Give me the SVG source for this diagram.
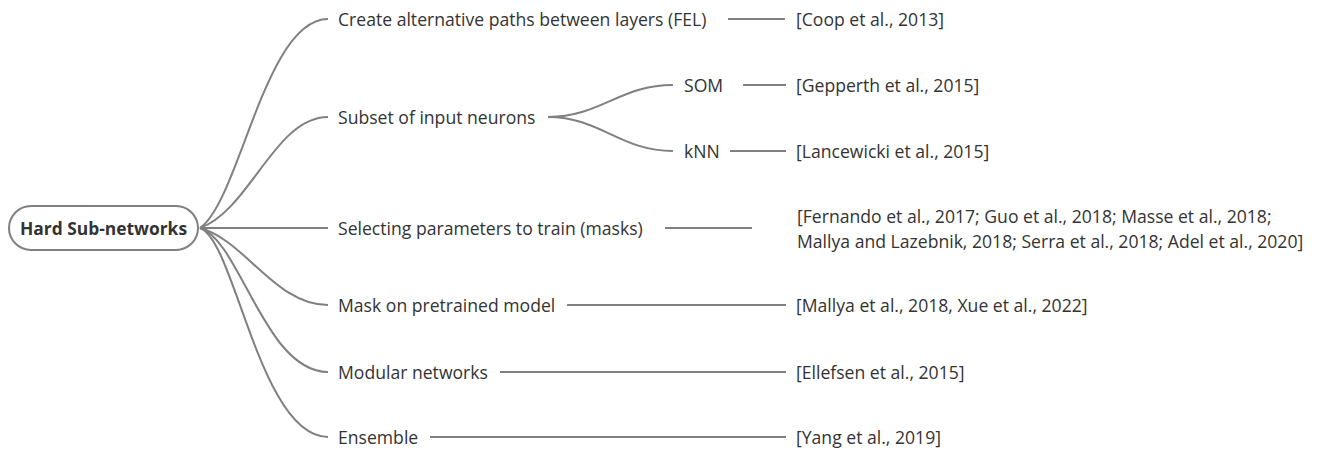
<svg xmlns="http://www.w3.org/2000/svg" width="1317" height="450" viewBox="0 0 1317 450">
<style>
text{font-family:"Open Sans","Noto Sans",sans-serif;font-size:17.6px;fill:#333;dominant-baseline:central}
.root{font-weight:bold;font-size:17.4px}
.c{fill:none;stroke:#808080;stroke-width:2}
</style>
<rect width="1317" height="450" fill="#fff"/>
<g id="connectors">
<path class="c" d="M200,228 C240,200 265,19 328,19"/>
<path class="c" d="M200,228 C250,210 275,117 328,117"/>
<path class="c" d="M200,228 L328,228"/>
<path class="c" d="M200,228 C245,240 275,305 328,305"/>
<path class="c" d="M200,228 C240,240 265,372 328,372"/>
<path class="c" d="M200,228 C235,240 260,437 328,437"/>
<path class="c" d="M548,117 C600,117 620,85 673,85"/>
<path class="c" d="M548,117 C600,117 620,151 673,151"/>
<path class="c" d="M728,19 L785,19"/>
<path class="c" d="M743,85 L786,85"/>
<path class="c" d="M730,151 L786,151"/>
<path class="c" d="M665,228 L752,228"/>
<path class="c" d="M567,305 L786,305"/>
<path class="c" d="M500,372 L786,372"/>
<path class="c" d="M430,437 L786,437"/>
</g>
<g id="root"><rect x="9" y="206" width="189" height="44" rx="22" fill="#fff" stroke="#808080" stroke-width="2"/><text class="root" x="103.5" y="228" text-anchor="middle">Hard Sub-networks</text></g>
<g id="n1"><text x="338" y="19">Create alternative paths between layers (FEL)</text></g>
<g id="n1c"><text x="796" y="19">[Coop et al., 2013]</text></g>
<g id="n2"><text x="338" y="117">Subset of input neurons</text></g>
<g id="n2a"><text x="684" y="85">SOM</text></g>
<g id="n2ac"><text x="796" y="85">[Gepperth et al., 2015]</text></g>
<g id="n2b"><text x="684" y="151">kNN</text></g>
<g id="n2bc"><text x="796" y="151">[Lancewicki et al., 2015]</text></g>
<g id="n3"><text x="338" y="228">Selecting parameters to train (masks)</text></g>
<g id="n3c"><text x="797" y="216">[Fernando et al., 2017; Guo et al., 2018; Masse et al., 2018;</text><text x="797" y="241">Mallya and Lazebnik, 2018; Serra et al., 2018; Adel et al., 2020]</text></g>
<g id="n4"><text x="338" y="305">Mask on pretrained model</text></g>
<g id="n4c"><text x="796" y="305">[Mallya et al., 2018, Xue et al., 2022]</text></g>
<g id="n5"><text x="338" y="372">Modular networks</text></g>
<g id="n5c"><text x="796" y="372">[Ellefsen et al., 2015]</text></g>
<g id="n6"><text x="338" y="437">Ensemble</text></g>
<g id="n6c"><text x="796" y="437">[Yang et al., 2019]</text></g>
</svg>
